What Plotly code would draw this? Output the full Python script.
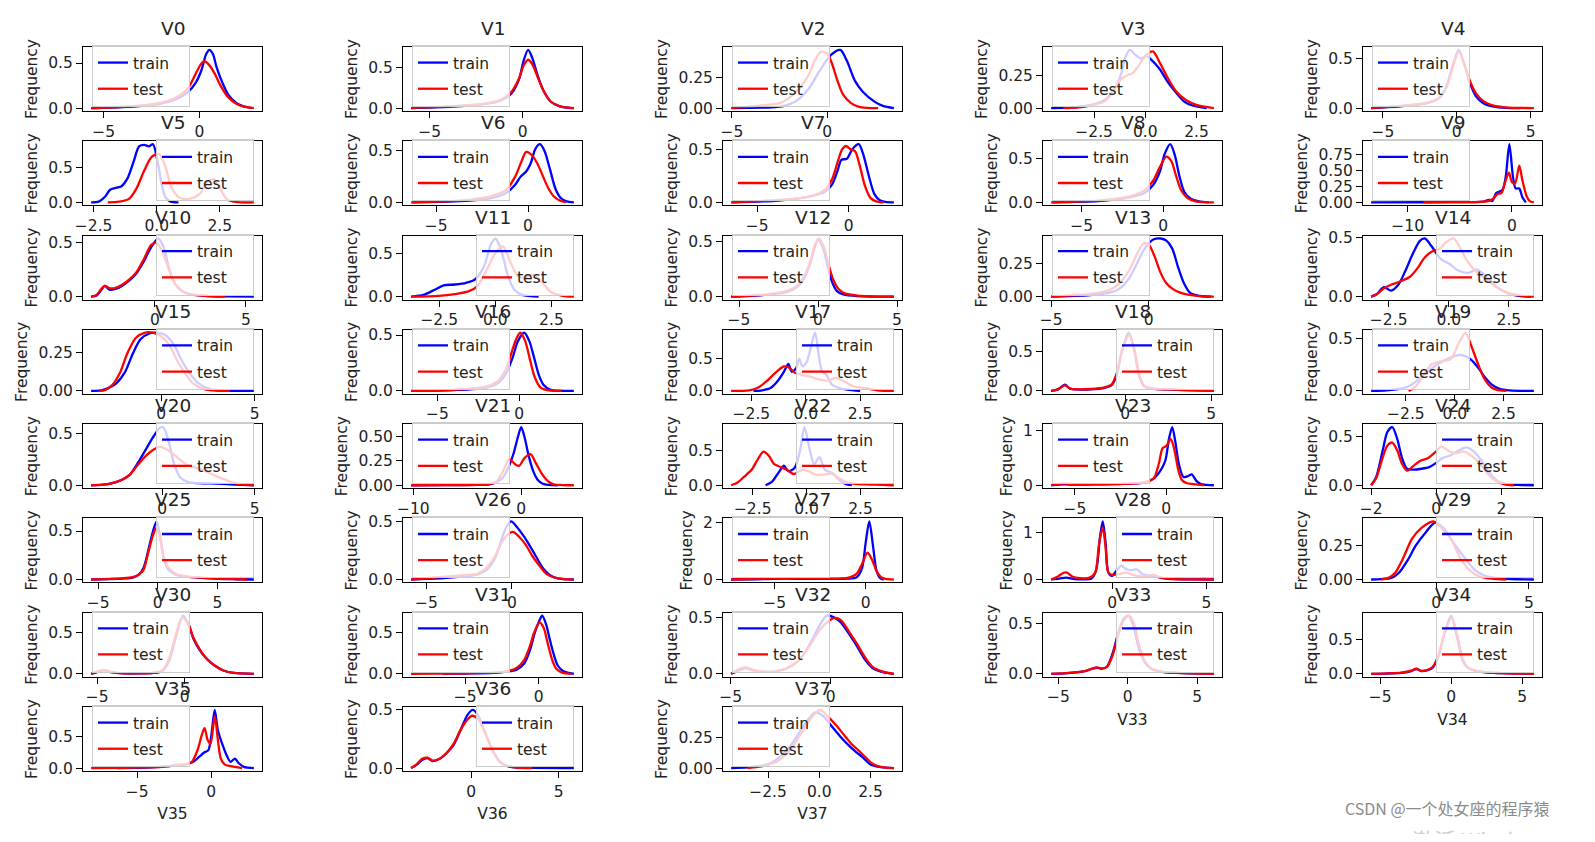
import plotly.graph_objects as go
from plotly.subplots import make_subplots

# KDE curves: (x, density) pairs, train = blue, test = red
v0_train = [(-5.66, 0), (-4, 0.01), (-3, 0.025), (-2, 0.05), (-1.2, 0.1), (-0.6, 0.18), (-0.2, 0.28), (0.1, 0.42), (0.35, 0.6), (0.52, 0.646), (0.7, 0.6), (0.9, 0.45), (1.2, 0.28), (1.5, 0.15), (1.9, 0.06), (2.3, 0.02), (2.74, 0)]
v0_test = [(-5.66, 0), (-4, 0.015), (-3, 0.03), (-2, 0.06), (-1.2, 0.12), (-0.6, 0.22), (-0.2, 0.38), (0.05, 0.48), (0.25, 0.52), (0.5, 0.48), (0.8, 0.38), (1.1, 0.25), (1.5, 0.12), (1.9, 0.05), (2.3, 0.015), (2.84, 0)]
v1_train = [(-6.0, 0), (-4, 0.015), (-3, 0.03), (-2, 0.05), (-1.2, 0.09), (-0.6, 0.18), (-0.2, 0.35), (0.05, 0.58), (0.29, 0.71), (0.5, 0.62), (0.8, 0.4), (1.1, 0.22), (1.5, 0.08), (2.0, 0.02), (2.5, 0.003), (2.75, 0)]
v1_test = [(-6.0, 0), (-4, 0.02), (-3, 0.035), (-2, 0.055), (-1.2, 0.1), (-0.6, 0.2), (-0.2, 0.36), (0.05, 0.52), (0.29, 0.59), (0.5, 0.54), (0.8, 0.38), (1.1, 0.22), (1.5, 0.08), (2.0, 0.02), (2.75, 0)]
v2_train = [(-5.0, 0), (-3.5, 0.003), (-2.6, 0.01), (-2.2, 0.02), (-1.7, 0.05), (-1.0, 0.15), (-0.4, 0.3), (0.2, 0.43), (0.69, 0.47), (1.04, 0.38), (1.46, 0.22), (1.88, 0.13), (2.5, 0.05), (2.92, 0.018), (3.5, 0)]
v2_test = [(-5.04, 0), (-4.2, 0.01), (-3.2, 0.025), (-2.5, 0.04), (-1.7, 0.12), (-1.0, 0.26), (-0.6, 0.4), (-0.31, 0.457), (0.0, 0.44), (0.25, 0.36), (0.52, 0.23), (0.83, 0.11), (1.25, 0.04), (1.67, 0.01), (2.1, 0.002), (2.67, 0)]
v3_train = [(-4.6, 0), (-3.5, 0.005), (-2.5, 0.03), (-2.0, 0.06), (-1.5, 0.15), (-1.2, 0.25), (-0.95, 0.4), (-0.75, 0.446), (-0.5, 0.41), (-0.2, 0.38), (0.05, 0.4), (0.3, 0.37), (0.7, 0.3), (1.1, 0.2), (1.5, 0.12), (1.9, 0.05), (2.3, 0.02), (3.0, 0)]
v3_test = [(-4.0, 0), (-3.0, 0.01), (-2.4, 0.03), (-2.0, 0.05), (-1.6, 0.12), (-1.2, 0.22), (-0.9, 0.25), (-0.6, 0.27), (-0.3, 0.33), (0.0, 0.4), (0.37, 0.434), (0.7, 0.35), (1.1, 0.23), (1.5, 0.13), (2.0, 0.06), (2.5, 0.025), (3.35, 0)]
v4_train = [(-5.8, 0), (-4, 0.015), (-3, 0.03), (-2, 0.05), (-1.2, 0.1), (-0.7, 0.22), (-0.3, 0.42), (0.13, 0.59), (0.5, 0.45), (0.9, 0.25), (1.3, 0.12), (1.8, 0.05), (2.5, 0.015), (3.3, 0.003), (4.3, 0)]
v4_test = [(-5.8, 0), (-4, 0.02), (-3, 0.035), (-2, 0.055), (-1.2, 0.1), (-0.7, 0.21), (-0.3, 0.4), (0.13, 0.57), (0.5, 0.45), (0.9, 0.27), (1.3, 0.15), (1.8, 0.07), (2.5, 0.025), (3.3, 0.008), (4.2, 0.002), (5.22, 0)]
v5_train = [(-2.6, 0), (-2.3, 0.01), (-2.05, 0.08), (-1.85, 0.18), (-1.6, 0.21), (-1.4, 0.23), (-1.15, 0.35), (-0.9, 0.6), (-0.7, 0.8), (-0.5, 0.82), (-0.3, 0.8), (-0.15, 0.83), (0.05, 0.55), (0.2, 0.25), (0.35, 0.07), (0.55, 0.01), (0.86, 0)]
v5_test = [(-1.94, 0), (-1.5, 0.01), (-1.1, 0.05), (-0.8, 0.2), (-0.5, 0.45), (-0.2, 0.65), (0.1, 0.69), (0.35, 0.5), (0.6, 0.2), (0.9, 0.07), (1.3, 0.05), (1.7, 0.12), (2.0, 0.28), (2.25, 0.33), (2.5, 0.2), (2.8, 0.04), (3.2, 0.003), (3.85, 0)]
v6_train = [(-6.3, 0), (-4, 0.01), (-3, 0.02), (-2, 0.04), (-1.2, 0.09), (-0.7, 0.17), (-0.4, 0.25), (-0.1, 0.3), (0.15, 0.38), (0.4, 0.52), (0.65, 0.565), (0.9, 0.5), (1.2, 0.32), (1.5, 0.13), (1.8, 0.04), (2.1, 0.01), (2.5, 0)]
v6_test = [(-6.37, 0), (-4, 0.015), (-3, 0.03), (-2, 0.06), (-1.2, 0.12), (-0.7, 0.25), (-0.35, 0.4), (-0.1, 0.49), (0.2, 0.46), (0.5, 0.38), (0.8, 0.26), (1.1, 0.14), (1.4, 0.06), (1.7, 0.02), (2.07, 0)]
v7_train = [(-6.4, 0), (-4, 0.015), (-3, 0.03), (-2, 0.06), (-1.3, 0.1), (-0.9, 0.17), (-0.6, 0.3), (-0.4, 0.4), (-0.1, 0.41), (0.2, 0.5), (0.55, 0.547), (0.8, 0.45), (1.1, 0.25), (1.4, 0.08), (1.7, 0.02), (2.0, 0.005), (2.47, 0)]
v7_test = [(-6.42, 0), (-4, 0.02), (-3, 0.035), (-2, 0.06), (-1.3, 0.12), (-0.9, 0.22), (-0.6, 0.38), (-0.35, 0.5), (-0.15, 0.53), (0.1, 0.5), (0.35, 0.48), (0.6, 0.35), (0.9, 0.15), (1.2, 0.04), (1.5, 0.01), (1.92, 0)]
v8_train = [(-6.8, 0), (-4, 0.015), (-3, 0.03), (-2, 0.06), (-1.2, 0.1), (-0.6, 0.2), (-0.2, 0.35), (0.1, 0.55), (0.44, 0.66), (0.7, 0.55), (1.0, 0.3), (1.3, 0.12), (1.7, 0.04), (2.2, 0.01), (2.8, 0)]
v8_test = [(-6.88, 0), (-4, 0.02), (-3, 0.04), (-2, 0.07), (-1.2, 0.13), (-0.6, 0.25), (-0.2, 0.4), (0.2, 0.52), (0.5, 0.47), (0.8, 0.3), (1.1, 0.14), (1.5, 0.05), (2.0, 0.012), (2.5, 0.003), (3.12, 0)]
v9_train = [(-13.5, 0), (-8, 0.002), (-4, 0.005), (-2.8, 0.01), (-2.2, 0.04), (-1.9, 0.02), (-1.5, 0.15), (-1.2, 0.17), (-0.9, 0.2), (-0.6, 0.4), (-0.25, 0.92), (0.1, 0.4), (0.35, 0.22), (0.7, 0.22), (1.0, 0.08), (1.33, 0)]
v9_test = [(-8.5, 0), (-5, 0.003), (-3, 0.008), (-2.3, 0.02), (-1.8, 0.06), (-1.4, 0.13), (-1.0, 0.15), (-0.6, 0.35), (-0.3, 0.47), (0.0, 0.32), (0.3, 0.3), (0.7, 0.58), (1.0, 0.35), (1.4, 0.1), (1.7, 0.02), (2.1, 0)]
v10_train = [(-3.5, 0), (-3.2, 0.01), (-2.95, 0.06), (-2.75, 0.1), (-2.5, 0.065), (-2.2, 0.07), (-1.8, 0.1), (-1.4, 0.15), (-1.0, 0.22), (-0.6, 0.33), (-0.2, 0.46), (0.2, 0.54), (0.5, 0.45), (0.8, 0.25), (1.1, 0.12), (1.5, 0.05), (2.0, 0.02), (3.0, 0.005), (4.0, 0.002), (5.44, 0)]
v10_test = [(-3.49, 0), (-3.2, 0.015), (-2.95, 0.07), (-2.75, 0.1), (-2.5, 0.08), (-2.2, 0.08), (-1.8, 0.11), (-1.4, 0.16), (-1.0, 0.23), (-0.6, 0.35), (-0.2, 0.48), (0.1, 0.5), (0.4, 0.42), (0.8, 0.24), (1.1, 0.12), (1.5, 0.05), (2.0, 0.02), (3.0, 0.005), (3.85, 0)]
v11_train = [(-3.75, 0), (-3.2, 0.02), (-2.7, 0.08), (-2.3, 0.13), (-1.8, 0.14), (-1.3, 0.16), (-0.9, 0.2), (-0.5, 0.35), (-0.2, 0.6), (0.0, 0.67), (0.25, 0.55), (0.55, 0.25), (0.85, 0.08), (1.2, 0.02), (1.93, 0)]
v11_test = [(-3.75, 0), (-2.5, 0.01), (-1.8, 0.03), (-1.2, 0.06), (-0.8, 0.12), (-0.4, 0.3), (0.0, 0.5), (0.34, 0.58), (0.7, 0.38), (1.0, 0.24), (1.3, 0.22), (1.7, 0.25), (2.1, 0.16), (2.5, 0.05), (3.0, 0.01), (3.5, 0)]
v12_train = [(-5.5, 0), (-4, 0.01), (-3, 0.02), (-2, 0.04), (-1.4, 0.08), (-0.9, 0.16), (-0.5, 0.3), (-0.2, 0.45), (0.0, 0.52), (0.3, 0.45), (0.6, 0.28), (0.9, 0.13), (1.2, 0.05), (1.6, 0.02), (2.5, 0.005), (4.8, 0)]
v12_test = [(-5.5, 0), (-4, 0.012), (-3, 0.025), (-2, 0.05), (-1.4, 0.09), (-0.9, 0.18), (-0.5, 0.32), (-0.2, 0.47), (0.05, 0.53), (0.35, 0.46), (0.65, 0.3), (0.95, 0.16), (1.3, 0.07), (1.7, 0.03), (2.5, 0.01), (3.5, 0.003), (4.8, 0)]
v13_train = [(-5.0, 0), (-4, 0.005), (-3, 0.012), (-2, 0.03), (-1.5, 0.06), (-1.0, 0.14), (-0.6, 0.25), (-0.3, 0.34), (0.0, 0.4), (0.25, 0.43), (0.6, 0.436), (0.9, 0.42), (1.2, 0.36), (1.5, 0.22), (1.8, 0.1), (2.1, 0.03), (2.5, 0.008), (3.2, 0)]
v13_test = [(-5.0, 0), (-4, 0.01), (-3, 0.02), (-2, 0.05), (-1.5, 0.1), (-1.0, 0.2), (-0.6, 0.32), (-0.26, 0.4), (0.0, 0.39), (0.3, 0.3), (0.6, 0.18), (0.9, 0.1), (1.2, 0.06), (1.6, 0.03), (2.0, 0.015), (2.6, 0.004), (3.33, 0)]
v14_train = [(-3.23, 0), (-3.0, 0.02), (-2.7, 0.08), (-2.4, 0.05), (-2.1, 0.1), (-1.8, 0.22), (-1.5, 0.36), (-1.2, 0.47), (-1.0, 0.49), (-0.7, 0.42), (-0.35, 0.32), (0.0, 0.28), (0.4, 0.22), (0.8, 0.2), (1.15, 0.23), (1.5, 0.18), (2.0, 0.08), (2.5, 0.025), (3.0, 0.005), (3.44, 0)]
v14_test = [(-3.23, 0), (-3.0, 0.02), (-2.7, 0.07), (-2.4, 0.1), (-2.0, 0.13), (-1.6, 0.17), (-1.3, 0.24), (-1.0, 0.33), (-0.7, 0.38), (-0.4, 0.4), (-0.1, 0.46), (0.2, 0.49), (0.5, 0.4), (0.8, 0.29), (1.2, 0.2), (1.6, 0.14), (2.0, 0.08), (2.5, 0.03), (3.0, 0.008), (3.54, 0)]
v15_train = [(-3.74, 0), (-3.2, 0.003), (-2.9, 0.015), (-2.4, 0.05), (-1.95, 0.12), (-1.5, 0.25), (-1.1, 0.34), (-0.6, 0.38), (-0.2, 0.383), (0.2, 0.37), (0.7, 0.3), (1.1, 0.2), (1.5, 0.12), (2.0, 0.05), (2.6, 0.012), (3.3, 0.002), (4.95, 0)]
v15_test = [(-3.3, 0), (-3.0, 0.005), (-2.6, 0.04), (-2.2, 0.12), (-1.8, 0.25), (-1.35, 0.35), (-0.9, 0.383), (-0.4, 0.383), (0.0, 0.36), (0.45, 0.3), (0.85, 0.2), (1.2, 0.13), (1.7, 0.05), (2.3, 0.012), (3.0, 0.002), (3.66, 0)]
v16_train = [(-6.6, 0), (-5, 0.003), (-4, 0.008), (-3, 0.015), (-2, 0.03), (-1.3, 0.07), (-0.8, 0.16), (-0.4, 0.3), (-0.1, 0.44), (0.3, 0.52), (0.6, 0.45), (0.9, 0.3), (1.2, 0.14), (1.5, 0.05), (1.9, 0.01), (2.4, 0.002), (3.33, 0)]
v16_test = [(-6.6, 0), (-5, 0.004), (-4, 0.01), (-3, 0.02), (-2, 0.04), (-1.3, 0.09), (-0.8, 0.2), (-0.5, 0.33), (-0.2, 0.46), (0.05, 0.52), (0.35, 0.45), (0.65, 0.28), (0.95, 0.12), (1.3, 0.03), (1.8, 0.005), (2.56, 0)]
v17_train = [(-2.4, 0), (-2.0, 0.01), (-1.6, 0.05), (-1.3, 0.15), (-1.0, 0.3), (-0.8, 0.42), (-0.65, 0.3), (-0.45, 0.35), (-0.3, 0.5), (-0.15, 0.38), (0.05, 0.45), (0.25, 0.7), (0.43, 0.9), (0.6, 0.55), (0.75, 0.3), (0.95, 0.25), (1.2, 0.1), (1.5, 0.05), (1.9, 0.02), (2.5, 0)]
v17_test = [(-3.43, 0), (-2.6, 0.01), (-2.2, 0.05), (-1.8, 0.15), (-1.4, 0.28), (-1.0, 0.38), (-0.75, 0.36), (-0.5, 0.28), (-0.2, 0.25), (0.2, 0.22), (0.6, 0.18), (1.0, 0.16), (1.4, 0.2), (1.8, 0.14), (2.2, 0.07), (2.8, 0.04), (3.3, 0.01), (4.05, 0)]
v18_train = [(-4.3, 0), (-3.9, 0.02), (-3.5, 0.08), (-3.2, 0.03), (-2.8, 0.02), (-2, 0.02), (-1.2, 0.04), (-0.8, 0.07), (-0.5, 0.2), (-0.2, 0.5), (0.2, 0.745), (0.5, 0.55), (0.8, 0.2), (1.1, 0.06), (1.6, 0.03), (2.5, 0.02), (3.5, 0.01), (5.15, 0)]
v18_test = [(-4.3, 0), (-3.9, 0.02), (-3.5, 0.07), (-3.2, 0.03), (-2.8, 0.02), (-2, 0.025), (-1.2, 0.045), (-0.8, 0.08), (-0.5, 0.22), (-0.2, 0.5), (0.25, 0.72), (0.55, 0.52), (0.85, 0.18), (1.15, 0.06), (1.6, 0.03), (2.5, 0.02), (3.5, 0.01), (5.15, 0)]
v19_train = [(-4.28, 0), (-3.5, 0.005), (-3.0, 0.015), (-2.4, 0.04), (-1.9, 0.1), (-1.4, 0.18), (-0.9, 0.25), (-0.4, 0.3), (0.3, 0.34), (0.8, 0.3), (1.2, 0.22), (1.5, 0.14), (1.9, 0.06), (2.3, 0.02), (2.8, 0.005), (4.05, 0)]
v19_test = [(-2.36, 0), (-2.0, 0.04), (-1.6, 0.15), (-1.2, 0.25), (-0.7, 0.28), (-0.2, 0.3), (0.2, 0.45), (0.55, 0.55), (0.8, 0.45), (1.1, 0.3), (1.5, 0.12), (1.9, 0.03), (2.3, 0.005), (2.64, 0)]
v20_train = [(-3.84, 0), (-3.2, 0.005), (-2.7, 0.02), (-2.2, 0.05), (-1.76, 0.1), (-1.3, 0.22), (-0.9, 0.34), (-0.5, 0.46), (-0.15, 0.55), (0.05, 0.56), (0.35, 0.42), (0.65, 0.2), (0.95, 0.08), (1.4, 0.03), (2.0, 0.02), (3.0, 0.015), (4.0, 0.005), (4.95, 0)]
v20_test = [(-3.84, 0), (-3.2, 0.005), (-2.7, 0.02), (-2.2, 0.05), (-1.76, 0.1), (-1.3, 0.2), (-0.9, 0.28), (-0.5, 0.34), (-0.14, 0.37), (0.3, 0.34), (0.8, 0.27), (1.3, 0.2), (1.8, 0.17), (2.4, 0.13), (3.0, 0.08), (3.6, 0.04), (4.2, 0.01), (4.95, 0)]
v21_train = [(-10.2, 0), (-7, 0.001), (-4, 0.003), (-3, 0.008), (-2.3, 0.03), (-1.7, 0.08), (-1.2, 0.18), (-0.7, 0.33), (-0.3, 0.5), (0.0, 0.6), (0.3, 0.5), (0.7, 0.3), (1.1, 0.15), (1.5, 0.06), (2.0, 0.015), (2.5, 0.003), (3.4, 0)]
v21_test = [(-10.2, 0), (-7, 0.001), (-4, 0.004), (-3, 0.01), (-2.3, 0.04), (-1.7, 0.14), (-1.1, 0.27), (-0.6, 0.22), (-0.2, 0.2), (0.3, 0.28), (0.85, 0.32), (1.4, 0.22), (1.9, 0.12), (2.5, 0.04), (3.0, 0.01), (3.8, 0.002), (4.88, 0)]
v22_train = [(-1.9, 0), (-1.6, 0.05), (-1.3, 0.18), (-1.05, 0.28), (-0.85, 0.2), (-0.55, 0.25), (-0.3, 0.5), (-0.1, 0.83), (0.15, 0.5), (0.35, 0.3), (0.6, 0.4), (0.85, 0.22), (1.2, 0.17), (1.5, 0.08), (1.8, 0.02), (2.1, 0)]
v22_test = [(-3.5, 0), (-3.2, 0.04), (-2.9, 0.12), (-2.55, 0.22), (-2.3, 0.35), (-2.0, 0.48), (-1.75, 0.42), (-1.5, 0.3), (-1.2, 0.26), (-0.9, 0.22), (-0.6, 0.16), (-0.2, 0.22), (0.1, 0.2), (0.4, 0.15), (0.8, 0.15), (1.15, 0.17), (1.5, 0.1), (1.9, 0.04), (2.4, 0.015), (3.0, 0.01), (3.5, 0.005), (4.05, 0)]
v23_train = [(-6.3, 0), (-5.6, 0.015), (-5, 0.01), (-4, 0.015), (-3, 0.02), (-2, 0.03), (-1.2, 0.05), (-0.7, 0.12), (-0.35, 0.25), (-0.05, 0.45), (0.15, 0.85), (0.33, 1.07), (0.5, 0.8), (0.7, 0.38), (0.95, 0.15), (1.2, 0.17), (1.4, 0.2), (1.65, 0.08), (1.9, 0.02), (2.2, 0.005), (2.61, 0)]
v23_test = [(-6.3, 0), (-5.6, 0.035), (-5, 0.015), (-4, 0.015), (-3, 0.02), (-2, 0.03), (-1.3, 0.05), (-0.7, 0.12), (-0.4, 0.4), (-0.2, 0.68), (0.0, 0.72), (0.25, 0.85), (0.45, 0.65), (0.65, 0.3), (0.85, 0.1), (1.1, 0.04), (1.5, 0.02), (2.06, 0)]
v24_train = [(-2.0, 0), (-1.85, 0.08), (-1.65, 0.35), (-1.5, 0.55), (-1.35, 0.6), (-1.2, 0.48), (-1.05, 0.28), (-0.9, 0.17), (-0.7, 0.16), (-0.45, 0.17), (-0.2, 0.19), (0.0, 0.23), (0.2, 0.28), (0.45, 0.31), (0.7, 0.36), (0.92, 0.39), (1.15, 0.35), (1.4, 0.25), (1.65, 0.12), (1.9, 0.04), (2.2, 0.01), (2.6, 0.002), (3.0, 0)]
v24_test = [(-2.0, 0), (-1.85, 0.07), (-1.65, 0.28), (-1.5, 0.41), (-1.35, 0.44), (-1.2, 0.36), (-1.05, 0.22), (-0.9, 0.15), (-0.7, 0.2), (-0.5, 0.25), (-0.25, 0.28), (0.0, 0.35), (0.15, 0.4), (0.4, 0.35), (0.6, 0.33), (0.85, 0.35), (1.1, 0.3), (1.35, 0.22), (1.6, 0.11), (1.85, 0.04), (2.1, 0.01), (2.38, 0)]
v25_train = [(-5.6, 0), (-4, 0.005), (-3, 0.01), (-2.1, 0.02), (-1.6, 0.05), (-1.2, 0.12), (-0.8, 0.3), (-0.4, 0.5), (-0.1, 0.6), (0.2, 0.45), (0.5, 0.22), (0.9, 0.1), (1.5, 0.05), (2.5, 0.03), (3.5, 0.02), (5, 0.008), (6.5, 0.003), (8.07, 0)]
v25_test = [(-5.6, 0), (-4, 0.006), (-3, 0.012), (-2.1, 0.025), (-1.6, 0.05), (-1.2, 0.1), (-0.8, 0.28), (-0.4, 0.46), (-0.15, 0.53), (0.15, 0.45), (0.45, 0.25), (0.9, 0.12), (1.5, 0.06), (2.5, 0.03), (3.5, 0.02), (5, 0.01), (6.5, 0.004), (7.5, 0)]
v26_train = [(-5.9, 0), (-5, 0.005), (-4, 0.012), (-3, 0.025), (-2, 0.045), (-1.5, 0.08), (-1.0, 0.18), (-0.6, 0.35), (-0.3, 0.46), (-0.05, 0.5), (0.3, 0.45), (0.7, 0.37), (1.0, 0.3), (1.4, 0.2), (1.8, 0.1), (2.2, 0.04), (2.7, 0.01), (3.62, 0)]
v26_test = [(-5.9, 0), (-5, 0.01), (-4, 0.025), (-3, 0.035), (-2, 0.05), (-1.5, 0.1), (-1.0, 0.2), (-0.6, 0.32), (-0.3, 0.38), (0.05, 0.41), (0.4, 0.37), (0.8, 0.3), (1.2, 0.2), (1.6, 0.12), (2.0, 0.05), (2.5, 0.015), (3.0, 0.004), (3.55, 0)]
v27_train = [(-7.4, 0), (-6, 0.01), (-4.5, 0.03), (-3, 0.02), (-2, 0.02), (-1, 0.03), (-0.5, 0.08), (-0.2, 0.4), (0.0, 1.3), (0.2, 2.05), (0.4, 1.2), (0.6, 0.3), (0.8, 0.05), (1.0, 0)]
v27_test = [(-7.4, 0), (-6, 0.02), (-4.5, 0.05), (-3, 0.04), (-2, 0.03), (-1, 0.06), (-0.5, 0.2), (-0.2, 0.55), (0.1, 0.95), (0.35, 0.7), (0.6, 0.3), (0.85, 0.08), (1.1, 0.02), (1.55, 0)]
v28_train = [(-3.24, 0), (-2.8, 0.02), (-2.45, 0.04), (-2.0, 0.01), (-1.5, 0.005), (-1.1, 0.02), (-0.85, 0.2), (-0.65, 0.9), (-0.5, 1.25), (-0.35, 0.8), (-0.2, 0.15), (0.0, 0.08), (0.25, 0.2), (0.48, 0.3), (0.75, 0.22), (1.0, 0.2), (1.3, 0.22), (1.6, 0.12), (2.0, 0.08), (2.3, 0.07), (2.7, 0.03), (3.5, 0.01), (4.5, 0.003), (5.4, 0)]
v28_test = [(-3.24, 0), (-2.9, 0.06), (-2.6, 0.14), (-2.4, 0.15), (-2.1, 0.06), (-1.7, 0.03), (-1.2, 0.04), (-0.9, 0.15), (-0.7, 0.75), (-0.5, 1.12), (-0.35, 0.7), (-0.2, 0.15), (0.05, 0.1), (0.4, 0.12), (0.75, 0.15), (1.1, 0.1), (1.5, 0.07), (1.9, 0.08), (2.2, 0.1), (2.5, 0.05), (3.0, 0.015), (4.0, 0.004), (5.4, 0)]
v29_train = [(-3.5, 0), (-3.0, 0.003), (-2.4, 0.012), (-2.0, 0.05), (-1.5, 0.15), (-1.1, 0.25), (-0.55, 0.35), (-0.05, 0.42), (0.4, 0.38), (0.8, 0.3), (1.1, 0.24), (1.6, 0.15), (2.1, 0.07), (2.6, 0.03), (3.0, 0.015), (4.0, 0.004), (5.27, 0)]
v29_test = [(-2.97, 0), (-2.6, 0.01), (-2.2, 0.05), (-1.8, 0.15), (-1.3, 0.3), (-0.8, 0.38), (-0.15, 0.43), (0.3, 0.38), (0.8, 0.3), (1.3, 0.16), (1.8, 0.07), (2.3, 0.025), (3.0, 0.006), (3.78, 0)]
v30_train = [(-5.34, 0), (-5.0, 0.02), (-4.6, 0.04), (-4.2, 0.02), (-3.5, 0.005), (-2.5, 0.005), (-1.8, 0.01), (-1.3, 0.03), (-0.9, 0.15), (-0.5, 0.45), (-0.1, 0.7), (0.2, 0.6), (0.5, 0.42), (0.9, 0.27), (1.3, 0.17), (1.7, 0.1), (2.2, 0.04), (2.8, 0.01), (3.94, 0)]
v30_test = [(-5.34, 0), (-5.0, 0.025), (-4.6, 0.045), (-4.2, 0.02), (-3.5, 0.006), (-2.5, 0.006), (-1.8, 0.012), (-1.3, 0.04), (-0.9, 0.18), (-0.5, 0.48), (-0.15, 0.68), (0.2, 0.6), (0.5, 0.43), (0.9, 0.28), (1.3, 0.17), (1.7, 0.1), (2.2, 0.04), (2.8, 0.01), (3.94, 0)]
v31_train = [(-6.55, 0), (-5, 0.003), (-4, 0.006), (-3, 0.012), (-2.2, 0.025), (-1.5, 0.05), (-1.0, 0.12), (-0.6, 0.28), (-0.25, 0.5), (0.0, 0.62), (0.24, 0.7), (0.5, 0.6), (0.75, 0.42), (1.0, 0.25), (1.3, 0.1), (1.7, 0.03), (2.4, 0)]
v31_test = [(-8.69, 0), (-7, 0.002), (-5, 0.005), (-4, 0.01), (-3, 0.015), (-2.2, 0.03), (-1.5, 0.07), (-1.0, 0.16), (-0.6, 0.33), (-0.3, 0.5), (0.07, 0.62), (0.35, 0.55), (0.6, 0.38), (0.9, 0.18), (1.2, 0.06), (1.6, 0.015), (2.24, 0)]
v32_train = [(-4.98, 0), (-4.6, 0.03), (-4.25, 0.05), (-3.9, 0.03), (-3.4, 0.02), (-2.8, 0.02), (-2.2, 0.05), (-1.6, 0.12), (-1.1, 0.25), (-0.6, 0.42), (-0.2, 0.52), (0.2, 0.5), (0.5, 0.46), (0.9, 0.36), (1.3, 0.25), (1.7, 0.13), (2.1, 0.05), (2.6, 0.015), (3.15, 0)]
v32_test = [(-4.98, 0), (-4.6, 0.04), (-4.25, 0.06), (-3.9, 0.035), (-3.4, 0.02), (-2.8, 0.02), (-2.2, 0.05), (-1.6, 0.12), (-1.1, 0.24), (-0.6, 0.38), (-0.2, 0.46), (0.2, 0.5), (0.5, 0.48), (0.9, 0.38), (1.3, 0.27), (1.7, 0.15), (2.1, 0.06), (2.6, 0.02), (3.15, 0)]
v33_train = [(-5.52, 0), (-4.5, 0.005), (-3.7, 0.015), (-3.0, 0.03), (-2.5, 0.055), (-2.2, 0.06), (-1.9, 0.05), (-1.5, 0.07), (-1.1, 0.2), (-0.7, 0.4), (-0.3, 0.55), (0.05, 0.58), (0.4, 0.48), (0.8, 0.25), (1.2, 0.12), (1.7, 0.05), (2.5, 0.02), (3.5, 0.01), (4.5, 0.004), (6.2, 0)]
v33_test = [(-5.52, 0), (-4.5, 0.006), (-3.7, 0.016), (-3.0, 0.03), (-2.5, 0.055), (-2.2, 0.065), (-1.9, 0.055), (-1.5, 0.07), (-1.1, 0.18), (-0.7, 0.38), (-0.3, 0.53), (0.1, 0.58), (0.45, 0.5), (0.85, 0.27), (1.25, 0.12), (1.7, 0.05), (2.5, 0.02), (3.5, 0.01), (4.5, 0.004), (6.2, 0)]
v34_train = [(-5.63, 0), (-4.5, 0.004), (-3.5, 0.015), (-2.8, 0.04), (-2.45, 0.07), (-2.1, 0.04), (-1.7, 0.05), (-1.3, 0.09), (-0.9, 0.25), (-0.45, 0.6), (0.0, 0.85), (0.4, 0.55), (0.8, 0.2), (1.1, 0.1), (1.6, 0.05), (2.5, 0.02), (3.5, 0.01), (4.5, 0.004), (5.83, 0)]
v34_test = [(-5.63, 0), (-4.5, 0.005), (-3.5, 0.016), (-2.8, 0.045), (-2.45, 0.075), (-2.1, 0.045), (-1.7, 0.055), (-1.3, 0.1), (-0.9, 0.26), (-0.45, 0.6), (0.05, 0.82), (0.45, 0.55), (0.85, 0.2), (1.15, 0.1), (1.6, 0.05), (2.5, 0.02), (3.5, 0.01), (4.5, 0.004), (5.83, 0)]
v35_train = [(-6.35, 0), (-5, 0.005), (-4, 0.012), (-3, 0.03), (-2.3, 0.05), (-1.7, 0.06), (-1.2, 0.1), (-0.8, 0.18), (-0.45, 0.25), (-0.2, 0.28), (0.0, 0.5), (0.24, 0.92), (0.45, 0.6), (0.75, 0.38), (1.05, 0.2), (1.3, 0.1), (1.6, 0.15), (1.85, 0.08), (2.2, 0.02), (2.88, 0)]
v35_test = [(-8.1, 0), (-6, 0.005), (-4.5, 0.01), (-3.3, 0.02), (-2.5, 0.04), (-1.9, 0.05), (-1.3, 0.1), (-0.9, 0.3), (-0.6, 0.55), (-0.44, 0.63), (-0.25, 0.45), (-0.05, 0.38), (0.24, 0.82), (0.45, 0.45), (0.65, 0.15), (0.9, 0.06), (1.3, 0.03), (2.09, 0)]
v36_train = [(-3.43, 0), (-3.1, 0.03), (-2.8, 0.07), (-2.5, 0.085), (-2.2, 0.06), (-1.8, 0.08), (-1.4, 0.13), (-1.0, 0.2), (-0.6, 0.33), (-0.2, 0.46), (0.1, 0.5), (0.4, 0.45), (0.8, 0.3), (1.2, 0.16), (1.6, 0.06), (2.0, 0.02), (2.6, 0.005), (3.5, 0.001), (5.86, 0)]
v36_test = [(-3.43, 0), (-3.1, 0.035), (-2.8, 0.08), (-2.5, 0.09), (-2.2, 0.065), (-1.8, 0.08), (-1.4, 0.13), (-1.0, 0.21), (-0.6, 0.33), (-0.2, 0.42), (0.05, 0.45), (0.4, 0.42), (0.8, 0.3), (1.2, 0.16), (1.6, 0.06), (2.0, 0.02), (2.6, 0.005), (3.49, 0)]
v37_train = [(-4.3, 0), (-3.5, 0.005), (-3.0, 0.015), (-2.5, 0.03), (-2.0, 0.08), (-1.5, 0.16), (-1.0, 0.28), (-0.5, 0.4), (-0.2, 0.45), (0.2, 0.42), (0.6, 0.34), (1.0, 0.26), (1.4, 0.19), (1.8, 0.13), (2.1, 0.09), (2.5, 0.03), (3.0, 0.008), (3.64, 0)]
v37_test = [(-3.5, 0), (-3.0, 0.01), (-2.5, 0.025), (-2.0, 0.06), (-1.5, 0.13), (-1.0, 0.25), (-0.5, 0.38), (-0.15, 0.45), (0.05, 0.47), (0.4, 0.42), (0.8, 0.35), (1.2, 0.27), (1.6, 0.19), (2.0, 0.13), (2.3, 0.08), (2.6, 0.035), (3.0, 0.01), (3.64, 0)]

series = [
    (v0_train, v0_test), (v1_train, v1_test), (v2_train, v2_test), (v3_train, v3_test), (v4_train, v4_test),
    (v5_train, v5_test), (v6_train, v6_test), (v7_train, v7_test), (v8_train, v8_test), (v9_train, v9_test),
    (v10_train, v10_test), (v11_train, v11_test), (v12_train, v12_test), (v13_train, v13_test), (v14_train, v14_test),
    (v15_train, v15_test), (v16_train, v16_test), (v17_train, v17_test), (v18_train, v18_test), (v19_train, v19_test),
    (v20_train, v20_test), (v21_train, v21_test), (v22_train, v22_test), (v23_train, v23_test), (v24_train, v24_test),
    (v25_train, v25_test), (v26_train, v26_test), (v27_train, v27_test), (v28_train, v28_test), (v29_train, v29_test),
    (v30_train, v30_test), (v31_train, v31_test), (v32_train, v32_test), (v33_train, v33_test), (v34_train, v34_test),
    (v35_train, v35_test), (v36_train, v36_test), (v37_train, v37_test),
]
names = [f"V{i}" for i in range(38)]

# tick labels as printed on each panel
x_ticks = [
    ["−5", "0"], ["−5", "0"], ["−5", "0"], ["−2.5", "0.0", "2.5"], ["−5", "0", "5"],
    ["−2.5", "0.0", "2.5"], ["−5", "0"], ["−5", "0"], ["−5", "0"], ["−10", "0"],
    ["0", "5"], ["−2.5", "0.0", "2.5"], ["−5", "0", "5"], ["−5", "0"], ["−2.5", "0.0", "2.5"],
    ["0", "5"], ["−5", "0"], ["−2.5", "0.0", "2.5"], ["0", "5"], ["−2.5", "0.0", "2.5"],
    ["0", "5"], ["−10", "0"], ["−2.5", "0.0", "2.5"], ["−5", "0"], ["−2", "0", "2"],
    ["−5", "0", "5"], ["−5", "0"], ["−5", "0"], ["0", "5"], ["0", "5"],
    ["−5", "0"], ["−5", "0"], ["−5", "0"], ["−5", "0", "5"], ["−5", "0", "5"],
    ["−5", "0"], ["0", "5"], ["−2.5", "0.0", "2.5"],
]
y_ticks = [
    ["0.0", "0.5"], ["0.0", "0.5"], ["0.00", "0.25"], ["0.00", "0.25"], ["0.0", "0.5"],
    ["0.0", "0.5"], ["0.0", "0.5"], ["0.0", "0.5"], ["0.0", "0.5"], ["0.00", "0.25", "0.50", "0.75"],
    ["0.0", "0.5"], ["0.0", "0.5"], ["0.0", "0.5"], ["0.00", "0.25"], ["0.0", "0.5"],
    ["0.00", "0.25"], ["0.0", "0.5"], ["0.0", "0.5"], ["0.0", "0.5"], ["0.0", "0.5"],
    ["0.0", "0.5"], ["0.00", "0.25", "0.50"], ["0.0", "0.5"], ["0", "1"], ["0.0", "0.5"],
    ["0.0", "0.5"], ["0.0", "0.5"], ["0", "2"], ["0", "1"], ["0.00", "0.25"],
    ["0.0", "0.5"], ["0.0", "0.5"], ["0.0", "0.5"], ["0.0", "0.5"], ["0.0", "0.5"],
    ["0.0", "0.5"], ["0.0", "0.5"], ["0.00", "0.25"],
]
# where matplotlib's "best" put each legend
legend_side = [
    "l", "l", "l", "l", "l",
    "r", "l", "l", "l", "l",
    "r", "r", "l", "l", "r",
    "r", "l", "r", "r", "l",
    "r", "l", "r", "l", "r",
    "r", "l", "l", "r", "r",
    "l", "l", "l", "r", "r",
    "l", "r", "l",
]

FONT = "DejaVu Sans"
FS = 15.5
# the page body has an 8px margin, so the figure is laid out 8px in from the window
OFF = 8
W, H = 1595 - 2 * OFF, 842 - 2 * OFF
# plot area in window pixels: left 83, right 1542, top 47, bottom 771
ML, MT = 83 - OFF, 47 - OFF
MR, MB = (W + OFF) - 1542, (H + OFF) - 771
PW, PH = 1542 - 83, 771 - 47


def num(label):
    return float(label.replace("−", "-"))


def px_x(x):
    return (x - 83) / PW


def px_y(y):
    return (771 - y) / PH


specs = [[{} for _ in range(5)] for _ in range(8)]
specs[7][3] = None
specs[7][4] = None

fig = make_subplots(rows=8, cols=5, specs=specs, subplot_titles=names,
                    horizontal_spacing=141 / PW, vertical_spacing=30.3 / PH)

for i, name in enumerate(names):
    row, col = i // 5 + 1, i % 5 + 1
    train, test = series[i]
    leg = "legend" if i == 0 else f"legend{i + 1}"
    for pts, color, label in ((train, "blue", "train"), (test, "red", "test")):
        fig.add_trace(go.Scatter(x=[p[0] for p in pts], y=[p[1] for p in pts],
                                 mode="lines", name=label + "\u00a0\u00a0\u00a0",
                                 legend=leg, legendgroup=f"{label}{i}",
                                 line=dict(color=color, width=2.3, shape="spline", smoothing=0.8),
                                 hoverinfo="skip"),
                      row=row, col=col)

    xs = [p[0] for p in train + test]
    ymax = max(p[1] for p in train + test)
    span = max(xs) - min(xs)
    fig.update_xaxes(range=[min(xs) - 0.05 * span, max(xs) + 0.05 * span],
                     tickvals=[num(t) for t in x_ticks[i]], ticktext=x_ticks[i],
                     row=row, col=col)
    fig.update_yaxes(range=[-0.05 * ymax, 1.05 * ymax],
                     tickvals=[num(t) for t in y_ticks[i]], ticktext=y_ticks[i],
                     title=dict(text="Frequency", standoff=6, font=dict(size=FS, color="#222")),
                     row=row, col=col)
    if name in ("V33", "V34", "V35", "V36", "V37"):
        fig.update_xaxes(title=dict(text=name, standoff=8, font=dict(size=FS, color="#222")),
                         row=row, col=col)

    sp = fig.get_subplot(row, col)
    xd, yd = sp.xaxis.domain, sp.yaxis.domain
    if legend_side[i] == "l":
        lx, xa = xd[0] + 9 / PW, "left"
    else:
        lx, xa = xd[1] - 8 / PW, "right"
    fig.update_layout({leg: dict(x=lx, y=yd[1] + 2 / PH, xanchor=xa, yanchor="top",
                                 bgcolor="rgba(255,255,255,0.8)", bordercolor="#cccccc",
                                 borderwidth=1, font=dict(size=FS, color="#222"),
                                 traceorder="grouped", tracegroupgap=3, itemwidth=30)})

axis_style = dict(showline=True, mirror=True, linecolor="black", linewidth=1,
                  ticks="outside", ticklen=6, tickwidth=1, tickcolor="black",
                  showgrid=False, zeroline=False, tickfont=dict(size=FS, color="#222"))
fig.update_xaxes(**axis_style)
fig.update_yaxes(**axis_style)

for ann in fig.layout.annotations:
    ann.font = dict(size=18.5, color="#222", family=FONT)
    ann.yshift = 6

fig.add_annotation(text="CSDN @一个处女座的程序猿", xref="paper", yref="paper",
                   x=px_x(1552), y=px_y(808), xanchor="right", yanchor="middle",
                   showarrow=False, font=dict(size=16, color="#8a8a8a", family="Noto Sans CJK SC"))
fig.add_annotation(text="激活 Windows", xref="paper", yref="paper",
                   x=px_x(1410), y=px_y(821), xanchor="left", yanchor="top",
                   showarrow=False, font=dict(size=22, color="#d0d0d0", family="Noto Sans CJK SC"))

fig.update_layout(width=W, height=H, margin=dict(l=ML, r=MR, t=MT, b=MB),
                  plot_bgcolor="white", paper_bgcolor="white",
                  font=dict(family=FONT, size=FS, color="#222"))

fig.write_html("out.html")
